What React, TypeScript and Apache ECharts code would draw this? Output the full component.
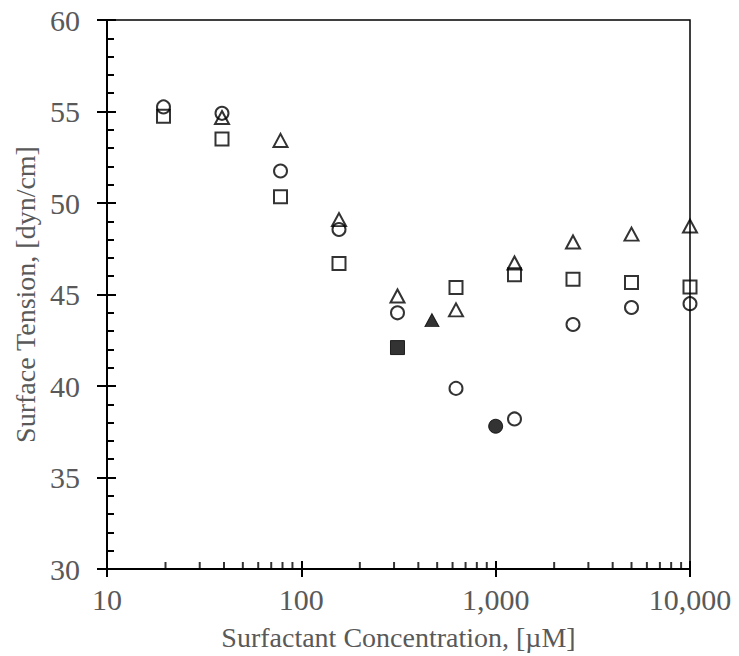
import React, { useEffect, useRef } from "react";
import * as echarts from "echarts";

// Concentrations (µM) - two-fold dilution series
const concentrations = [19.53, 39.06, 78.13, 156.25, 312.5, 625, 1250, 2500, 5000, 10000];
// Open-marker series (surface tension, dyn/cm)
const triangleVals: (number | null)[] = [null, 54.67, 53.42, 49.09, 44.92, 44.16, 46.72, 47.87, 48.3, 48.74];
const squareVals: (number | null)[] = [54.74, 53.5, 50.34, 46.69, null, 45.38, 46.08, 45.83, 45.65, 45.41];
const circleVals: (number | null)[] = [55.25, 54.9, 51.75, 48.55, 44.0, 39.87, 38.2, 43.36, 44.29, 44.5];
// Filled markers (critical points)
const filledSquare: [number, number][] = [[312.5, 42.1]];
const filledTriangle: [number, number][] = [[470, 43.6]];
const filledCircle: [number, number][] = [[1000, 37.8]];
// Minor log ticks on x axis
const xMinorTicks = [20, 30, 40, 50, 60, 70, 80, 90, 200, 300, 400, 500, 600, 700, 800, 900, 2000, 3000, 4000, 5000, 6000, 7000, 8000, 9000];
const yMin = 30;
const yMax = 60;

const FONT = "'Liberation Serif', 'Times New Roman', serif";
const GRAY = "#595959";

function pair(vals: (number | null)[]) {
  return concentrations
    .map((c, i) => (vals[i] == null ? null : [c, vals[i]]))
    .filter((d) => d != null);
}

export default function App() {
  const ref = useRef<HTMLDivElement>(null);
  useEffect(() => {
    if (!ref.current) return;
    const chart = echarts.init(ref.current, null, { renderer: "svg" });
    const openStyle = { color: "rgba(0,0,0,0)", borderColor: "#000", borderWidth: 2 };
    const fillStyle = { color: "#000", borderColor: "#000", borderWidth: 1 };
    const fmt = (v: number) => Math.round(v).toLocaleString("en-US");
    chart.setOption({
      animation: false,
      grid: {
        left: 107,
        right: 49,
        top: 20,
        bottom: 86,
        show: true,
        borderColor: "#000",
        borderWidth: 1.5,
        backgroundColor: "transparent",
      },
      xAxis: [
        {
          type: "log",
          logBase: 10,
          min: 10,
          max: 10000,
          name: "Surfactant Concentration, [\u00b5M]",
          nameLocation: "middle",
          nameGap: 54,
          nameTextStyle: { fontFamily: FONT, fontSize: 28, color: GRAY },
          axisLine: { lineStyle: { color: "#000", width: 2 } },
          axisTick: { show: true, inside: false, length: 8, lineStyle: { color: "#000", width: 2 } },
          axisLabel: { fontFamily: FONT, fontSize: 30, color: GRAY, margin: 15, formatter: fmt },
          splitLine: { show: false },
        },
        {
          type: "log",
          logBase: 10,
          min: 10,
          max: 10000,
          position: "bottom",
          axisLine: { show: false },
          axisTick: { show: true, inside: true, length: 8, lineStyle: { color: "#000", width: 2 } },
          axisLabel: { show: false },
          splitLine: { show: false },
        },
      ],
      yAxis: [
        {
          type: "value",
          min: yMin,
          max: yMax,
          interval: 5,
          name: "Surface Tension, [dyn/cm]",
          nameLocation: "middle",
          nameGap: 64,
          nameTextStyle: { fontFamily: FONT, fontSize: 28, color: GRAY },
          axisLine: { show: true, lineStyle: { color: "#000", width: 2 } },
          axisTick: { show: true, inside: false, length: 10, lineStyle: { color: "#000", width: 2 } },
          axisLabel: { fontFamily: FONT, fontSize: 30, color: GRAY, margin: 27 },
          splitLine: { show: false },
        },
        {
          type: "value",
          min: yMin,
          max: yMax,
          interval: 5,
          position: "left",
          axisLine: { show: false },
          axisTick: { show: true, inside: true, length: 9, lineStyle: { color: "#000", width: 2 } },
          minorTick: { show: true, splitNumber: 5, length: 7, lineStyle: { color: "#000", width: 2 } },
          axisLabel: { show: false },
          splitLine: { show: false },
        },
      ],
      series: [
        {
          type: "scatter",
          name: "minorTicks",
          data: xMinorTicks.map((v) => [v, yMin]),
          symbol: "rect",
          symbolSize: [2, 7],
          symbolOffset: [0, -3.5],
          itemStyle: { color: "#000" },
          silent: true,
          clip: false,
          z: 1,
        },
        {
          type: "scatter",
          data: pair(circleVals),
          symbol: "circle",
          symbolSize: 13,
          itemStyle: openStyle,
        },
        {
          type: "scatter",
          data: pair(squareVals),
          symbol: "rect",
          symbolSize: 13,
          itemStyle: openStyle,
        },
        {
          type: "scatter",
          data: pair(triangleVals),
          symbol: "triangle",
          symbolSize: [14, 13],
          itemStyle: openStyle,
        },
        {
          type: "scatter",
          data: filledSquare,
          symbol: "rect",
          symbolSize: 14,
          itemStyle: fillStyle,
        },
        {
          type: "scatter",
          data: filledTriangle,
          symbol: "triangle",
          symbolSize: [14, 13],
          itemStyle: fillStyle,
        },
        {
          type: "scatter",
          data: filledCircle,
          symbol: "circle",
          symbolSize: 14,
          itemStyle: fillStyle,
        },
      ],
    });
    return () => chart.dispose();
  }, []);
  return (
    <div
      ref={ref}
      style={{ position: "absolute", left: 0, top: 0, width: 739, height: 656, background: "#fff" }}
    />
  );
}
